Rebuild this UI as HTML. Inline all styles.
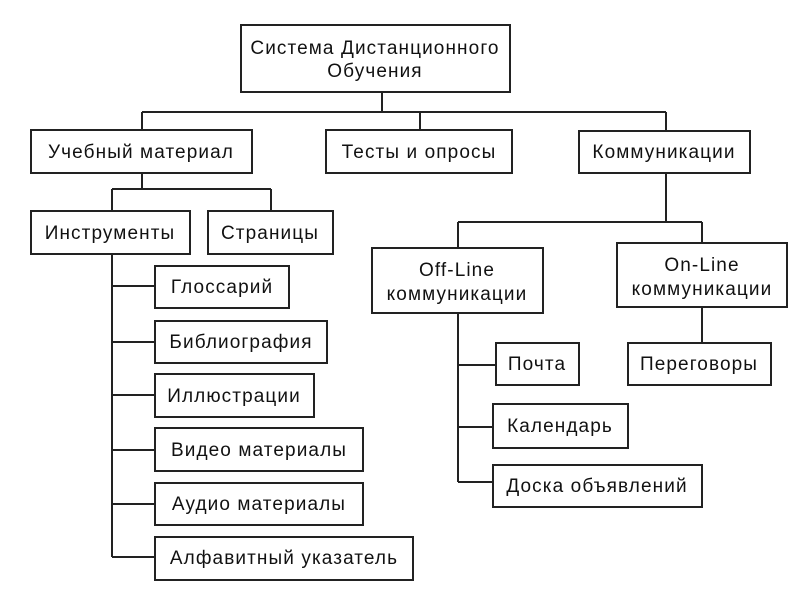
<!DOCTYPE html>
<html><head><meta charset="utf-8"><style>
html,body{margin:0;padding:0;background:#fff;width:800px;height:600px;overflow:hidden}
text{font-family:"Liberation Sans",sans-serif;font-size:19px;fill:#111;text-anchor:middle;letter-spacing:1.1px}
rect{fill:#fff;stroke:#222;stroke-width:2}
line,polyline{stroke:#222;stroke-width:2;fill:none}
</style></head><body>
<svg width="800" height="600" xmlns="http://www.w3.org/2000/svg">
<line x1="382" y1="92" x2="382" y2="112"/>
<line x1="142" y1="112" x2="666" y2="112"/>
<line x1="142" y1="112" x2="142" y2="130"/>
<line x1="420" y1="112" x2="420" y2="130"/>
<line x1="666" y1="112" x2="666" y2="131"/>
<line x1="142" y1="173" x2="142" y2="189"/>
<line x1="112" y1="189" x2="271" y2="189"/>
<line x1="112" y1="189" x2="112" y2="211"/>
<line x1="271" y1="189" x2="271" y2="211"/>
<line x1="112" y1="254" x2="112" y2="557"/>
<line x1="112" y1="286" x2="155" y2="286"/>
<line x1="112" y1="342" x2="155" y2="342"/>
<line x1="112" y1="395" x2="155" y2="395"/>
<line x1="112" y1="450" x2="155" y2="450"/>
<line x1="112" y1="504" x2="155" y2="504"/>
<line x1="112" y1="557" x2="155" y2="557"/>
<line x1="666" y1="173" x2="666" y2="222"/>
<line x1="458" y1="222" x2="702" y2="222"/>
<line x1="458" y1="222" x2="458" y2="248"/>
<line x1="702" y1="222" x2="702" y2="243"/>
<line x1="458" y1="313" x2="458" y2="482"/>
<line x1="458" y1="365" x2="496" y2="365"/>
<line x1="458" y1="427" x2="493" y2="427"/>
<line x1="458" y1="482" x2="493" y2="482"/>
<line x1="702" y1="307" x2="702" y2="343"/>
<rect x="241" y="25" width="269" height="67"/>
<text x="375" y="54">Система Дистанционного</text>
<text x="375" y="77">Обучения</text>
<rect x="31" y="130" width="221" height="43"/><text x="141" y="158">Учебный материал</text>
<rect x="326" y="130" width="186" height="43"/><text x="419" y="158">Тесты и опросы</text>
<rect x="579" y="131" width="171" height="42"/><text x="664" y="158">Коммуникации</text>
<rect x="31" y="211" width="159" height="43"/><text x="110" y="239">Инструменты</text>
<rect x="208" y="211" width="125" height="43"/><text x="270" y="239">Страницы</text>
<rect x="155" y="266" width="134" height="42"/><text x="222" y="293">Глоссарий</text>
<rect x="155" y="321" width="172" height="42"/><text x="241" y="348">Библиография</text>
<rect x="155" y="374" width="159" height="43"/><text x="234" y="402">Иллюстрации</text>
<rect x="155" y="428" width="208" height="43"/><text x="259" y="456">Видео материалы</text>
<rect x="155" y="483" width="208" height="42"/><text x="259" y="510">Аудио материалы</text>
<rect x="155" y="537" width="258" height="43"/><text x="284" y="564">Алфавитный указатель</text>
<rect x="372" y="248" width="171" height="65"/>
<text x="457" y="276">Off-Line</text><text x="457" y="300">коммуникации</text>
<rect x="617" y="243" width="170" height="64"/>
<text x="702" y="271">On-Line</text><text x="702" y="295">коммуникации</text>
<rect x="496" y="343" width="83" height="42"/><text x="537" y="370">Почта</text>
<rect x="628" y="343" width="143" height="42"/><text x="699" y="370">Переговоры</text>
<rect x="493" y="404" width="135" height="44"/><text x="560" y="432">Календарь</text>
<rect x="493" y="465" width="209" height="42"/><text x="597" y="492">Доска объявлений</text>
</svg>
</body></html>
